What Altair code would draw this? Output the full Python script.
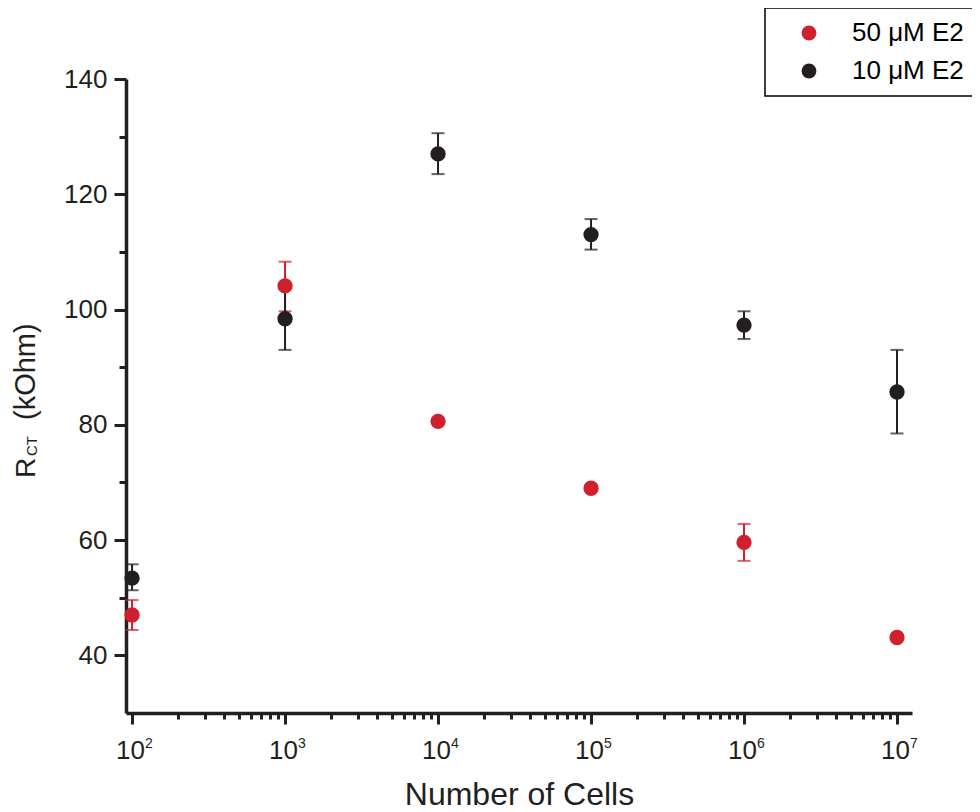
import json
import altair as alt
import pandas as pd

# ---------------- data ----------------
cells = [1e2, 1e3, 1e4, 1e5, 1e6, 1e7]
series_names = ["50 μM E2", "10 μM E2"]
series_colors = ["#d0202e", "#231f20"]

r50 = [47.0, 104.1, 80.6, 69.0, 59.6, 43.1]
r50_lo = [44.4, 99.7, 80.1, 68.5, 56.4, 42.6]
r50_hi = [49.6, 108.3, 81.1, 69.5, 62.8, 43.6]

r10 = [53.4, 98.4, 127.0, 113.0, 97.3, 85.7]
r10_lo = [51.3, 93.0, 123.5, 110.4, 94.9, 78.5]
r10_hi = [55.8, 103.8, 130.6, 115.7, 99.7, 93.0]

x_major = [1e2, 1e3, 1e4, 1e5, 1e6, 1e7]
x_major_exp = ["2", "3", "4", "5", "6", "7"]
x_minor = [m * 10 ** e for e in range(2, 7) for m in range(2, 10)]
y_major = [40, 60, 80, 100, 120, 140]
y_minor = [50, 70, 90, 110, 130]

x_domain = [91.3, 1.253e7]
y_domain = [30, 140]

rows = []
for name, vals, lo, hi in [(series_names[0], r50, r50_lo, r50_hi),
                           (series_names[1], r10, r10_lo, r10_hi)]:
    for c, v, l, h in zip(cells, vals, lo, hi):
        rows.append({"cells": c, "r": v, "lo": l, "hi": h, "series": name})
df = pd.DataFrame(rows)
exp_df = pd.DataFrame({"cells": x_major, "exp": x_major_exp})

FONT = "Liberation Sans"
INK = "#231f20"

xvals = sorted(x_major + x_minor)
yvals = sorted(y_major + y_minor)
xm = json.dumps(x_major)
ym = json.dumps(y_major)

x_axis = alt.Axis(
    values=xvals,
    labelExpr=f"indexof({xm}, datum.value) >= 0 ? '10' : ''",
    tickSize={"condition": {"test": f"indexof({xm}, datum.value) >= 0", "value": 11}, "value": 6},
    tickWidth=3, tickColor=INK, domainColor=INK, domainWidth=3.5,
    labelFont=FONT, labelFontSize=26, labelColor=INK, labelPadding=13, labelOffset=-2,
    labelOverlap=False, labelFlush=False, grid=False,
    title="Number of Cells", titleFont=FONT, titleFontSize=32, titleFontWeight="normal",
    titleColor=INK, titlePadding=16, orient="bottom",
)
y_axis = alt.Axis(
    values=yvals,
    labelExpr=f"indexof({ym}, datum.value) >= 0 ? datum.label : ''",
    tickSize={"condition": {"test": f"indexof({ym}, datum.value) >= 0", "value": 12}, "value": 7},
    tickWidth=3, tickColor=INK, domainColor=INK, domainWidth=3.5,
    labelFont=FONT, labelFontSize=26, labelColor=INK, labelPadding=7,
    labelOverlap=False, labelFlush=False, grid=False, title="", orient="left",
)

xs = alt.Scale(type="log", domain=x_domain, nice=False)
ys = alt.Scale(domain=y_domain, nice=False, zero=False)
cs = alt.Scale(domain=series_names, range=series_colors)

legend = alt.Legend(
    title=None, orient="none", legendX=639, legendY=-71,
    strokeColor="#000000", fillColor="#ffffff", padding=12,
    symbolOffset=19, labelOffset=30, symbolSize=220, symbolType="circle",
    symbolStrokeWidth=0, symbolOpacity=1, labelFont=FONT, labelFontSize=26,
    labelColor="#000000", rowPadding=12,
)

base = alt.Chart(df)

bars = base.mark_errorbar(ticks=True, size=13, thickness=2).encode(
    x=alt.X("cells:Q", scale=xs, axis=x_axis),
    y=alt.Y("lo:Q", scale=ys, axis=y_axis),
    y2="hi:Q",
    color=alt.Color("series:N", scale=cs, legend=legend),
)

points = base.mark_circle(size=235, opacity=1).encode(
    x=alt.X("cells:Q", scale=xs),
    y=alt.Y("r:Q", scale=ys),
    color=alt.Color("series:N", scale=cs, legend=legend),
)

exps = alt.Chart(exp_df).mark_text(
    align="left", baseline="top", dx=13, font=FONT, fontSize=14, color=INK
).encode(
    x=alt.X("cells:Q", scale=xs),
    y=alt.value(658),
    text="exp:N",
)

title_df = pd.DataFrame({"t": ["R"]})
tb = alt.Chart(title_df)
t1 = tb.mark_text(text="R", angle=270, align="left", baseline="alphabetic",
                  font=FONT, fontSize=28, color=INK).encode(
    x=alt.value(-91), y=alt.value(399))
t2 = tb.mark_text(text="CT", angle=270, align="left", baseline="alphabetic",
                  font=FONT, fontSize=15, color=INK).encode(
    x=alt.value(-89), y=alt.value(377))
t3 = tb.mark_text(text="(kOhm)", angle=270, align="left", baseline="alphabetic",
                  font=FONT, fontSize=29, color=INK).encode(
    x=alt.value(-91), y=alt.value(341))

chart = alt.layer(bars, points, exps, t1, t2, t3).properties(
    width=786, height=634,
    autosize=alt.AutoSizeParams(type="none"),
    padding={"left": 118, "top": 71, "right": 60, "bottom": 97},
).configure_view(stroke=None).configure_legend(strokeWidth=1.5)

chart.save("out.html", embed_options={"renderer": "svg", "actions": False})
